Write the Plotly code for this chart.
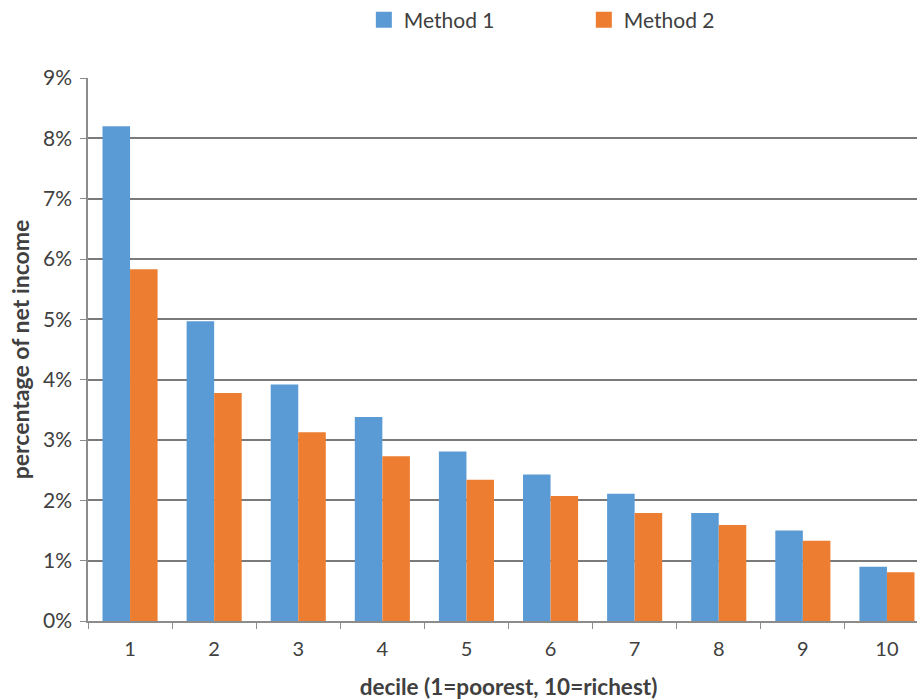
import plotly.graph_objects as go

deciles = ["1", "2", "3", "4", "5", "6", "7", "8", "9", "10"]
method1 = [8.20, 4.97, 3.92, 3.38, 2.81, 2.43, 2.11, 1.79, 1.50, 0.90]
method2 = [5.83, 3.78, 3.13, 2.73, 2.34, 2.07, 1.79, 1.59, 1.33, 0.81]
series_names = ["Method 1", "Method 2"]
series_colors = ["#5B9BD5", "#ED7D31"]
y_ticks = [0, 1, 2, 3, 4, 5, 6, 7, 8, 9]
y_tick_labels = [f"{v}%" for v in y_ticks]

FONT = "Lato, 'Open Sans', sans-serif"
TXT = "#404040"

fig = go.Figure()
for name, vals, col in zip(series_names, [method1, method2], series_colors):
    fig.add_trace(go.Bar(x=deciles, y=vals, name=name, legendgroup=name, showlegend=False,
                         marker=dict(color=col, line=dict(width=0))))
# legend entries with larger square swatches
for name, col in zip(series_names, series_colors):
    fig.add_trace(go.Scatter(x=[None], y=[None], mode="markers", name=name, legendgroup=name,
                             marker=dict(symbol="square", size=17, color=col), showlegend=True))

# the original chart is cropped on the right: the plot area runs past the window edge
fig.update_layout(
    width=931, height=700,
    margin=dict(l=88, r=2, t=78, b=79),
    paper_bgcolor="white", plot_bgcolor="white",
    barmode="group", bargap=0.345, bargroupgap=0,
    font=dict(family=FONT, size=20, color=TXT),
    showlegend=True,
    legend=dict(orientation="h", x=0.328, xanchor="left", y=0.942, yanchor="bottom",
                yref="container", font=dict(size=21, color=TXT),
                entrywidth=175, entrywidthmode="pixels", itemwidth=30, itemsizing="trace",
                bgcolor="rgba(0,0,0,0)"),
    xaxis=dict(
        type="category", automargin=False, showline=True, linecolor="#8c8c8c", linewidth=1.5,
        ticks="outside", tickson="boundaries", ticklen=6, tickcolor="#8c8c8c",
        ticklabelstandoff=9,
        tickfont=dict(size=20, color=TXT), showgrid=False,
        title=dict(text="<b>decile (1=poorest, 10=richest)</b>", font=dict(size=22.5, color=TXT), standoff=26),
    ),
    yaxis=dict(
        range=[0, 9], tickvals=y_ticks, ticktext=y_tick_labels, automargin=False,
        showline=True, linecolor="#8c8c8c", linewidth=1.5,
        ticks="outside", ticklen=6, tickcolor="#8c8c8c", ticklabelstandoff=4,
        showgrid=True, gridcolor="#7a7a7a", gridwidth=1.5,
        zeroline=False, tickfont=dict(size=21, color=TXT),
        title=dict(text="<b>percentage of net income</b>", font=dict(size=23, color=TXT), standoff=7),
    ),
)

fig.write_html("out.html", config={"displayModeBar": False},
               post_script="document.body.style.margin='0';document.body.style.overflow='hidden';")
